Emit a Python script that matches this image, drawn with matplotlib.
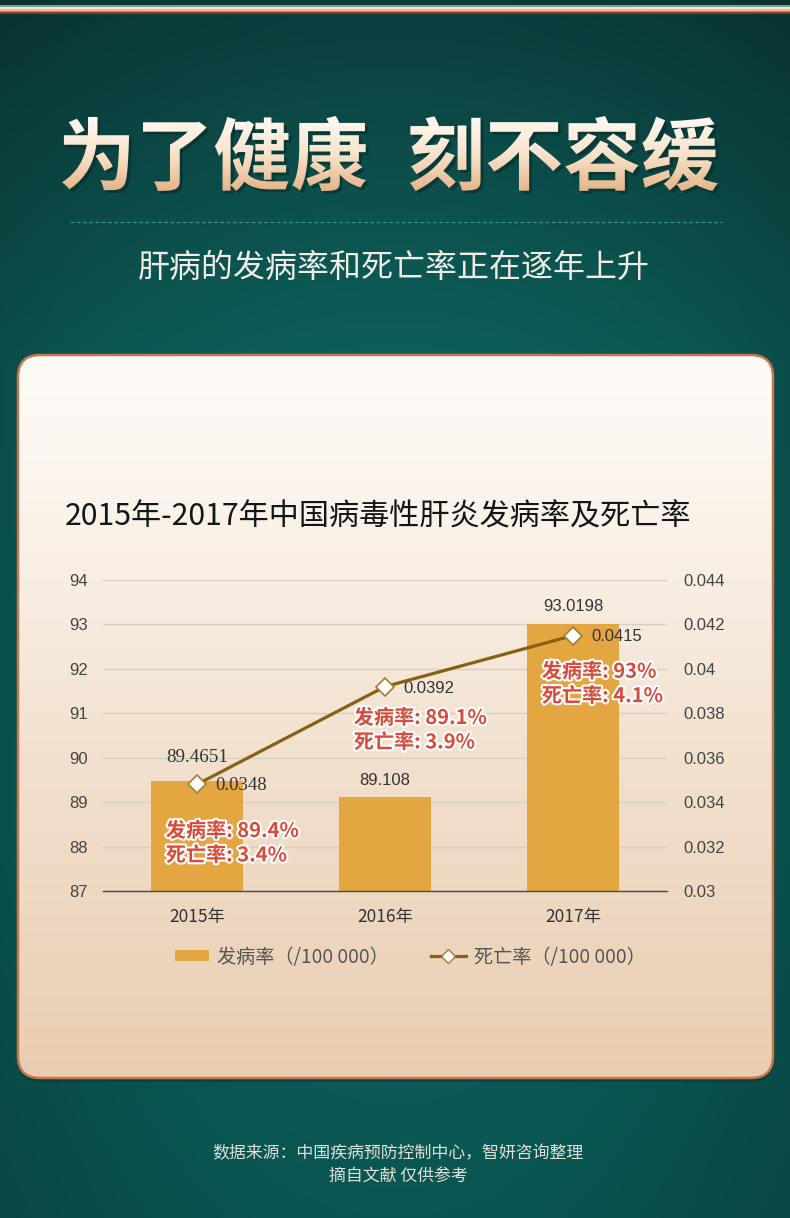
import numpy as np
import matplotlib
matplotlib.use("Agg")
import matplotlib.pyplot as plt
import matplotlib.patheffects as pe
from matplotlib.font_manager import FontProperties
from matplotlib.textpath import TextPath
from matplotlib.patches import PathPatch, FancyBboxPatch, Patch
from matplotlib.lines import Line2D
from matplotlib.transforms import Affine2D

plt.rcParams['font.family'] = ['Noto Sans CJK SC', 'DejaVu Sans']

# data
years = ['2015年', '2016年', '2017年']
incidence = [89.4651, 89.108, 93.0198]          # 发病率 (/100 000)
mortality = [0.0348, 0.0392, 0.0415]            # 死亡率 (/100 000)
ann_inc = ['89.4%', '89.1%', '93%']
ann_mort = ['3.4%', '3.9%', '4.1%']
left_ticks = [87, 88, 89, 90, 91, 92, 93, 94]
right_ticks = [0.03, 0.032, 0.034, 0.036, 0.038, 0.04, 0.042, 0.044]

headline = '为了健康 刻不容缓'
subtitle = '肝病的发病率和死亡率正在逐年上升'
chart_title = '2015年-2017年中国病毒性肝炎发病率及死亡率'
source = '数据来源：中国疾病预防控制中心，智妍咨询整理'
note = '摘自文献 仅供参考'

W, H = 790, 1218
BAR_C = '#e3a640'
LINE_C = '#876012'
RED = '#d84b3a'


def vgrad(stops, n=400):
    pos = [s[0] for s in stops]
    cols = np.array([matplotlib.colors.to_rgb(s[1]) for s in stops])
    t = np.linspace(0, 1, n)
    out = np.stack([np.interp(t, pos, cols[:, i]) for i in range(3)], axis=1)
    return out[:, None, :]


fig = plt.figure(figsize=(W / 100, H / 100), dpi=100)
bg = fig.add_axes([0, 0, 1, 1])
bg.set_axis_off()

# teal background, a bit darker at the very top and at the sides
base = vgrad([(0, '#0b3d3d'), (0.1, '#0c4a48'), (0.3, '#0d605b'),
              (0.7, '#0b625d'), (1, '#0a5552')])
side = 1 - 0.18 * (np.linspace(-1, 1, 200) ** 2)
img = base * side[None, :, None]
bg.imshow(img, extent=[0, W, H, 0], aspect='auto', zorder=0)

# stripe at the top
for y0, y1, c in [(5, 7, '#7f9e90'), (7, 8.5, '#f4e6cc'), (8.5, 10.5, '#f2b596'),
                  (10.5, 12, '#e07a52'), (12, 13.5, '#8c3a22')]:
    bg.axhspan(y0, y1, color=c, zorder=1, lw=0)

# headline, two words, cream gradient fill
fp = FontProperties(family='Noto Sans CJK SC', weight='black')
ytop, ybot = 116, 191
for word, (x0, x1) in zip(headline.split(' '), [(62, 366), (410, 718)]):
    tp = TextPath((0, 0), word, size=100, prop=fp)
    bb = tp.get_extents()
    tr = (Affine2D().translate(-bb.x0, -bb.y0)
          .scale((x1 - x0) / bb.width, -(ybot - ytop) / bb.height).translate(x0, ybot))
    hp = tr.transform_path(tp)
    shadow = PathPatch(hp, transform=Affine2D().translate(3, 3) + bg.transData,
                       facecolor='#062a28', edgecolor='none', alpha=0.55, zorder=2)
    bg.add_patch(shadow)
    hpatch = PathPatch(hp, transform=bg.transData, facecolor='none', edgecolor='none', zorder=3)
    bg.add_patch(hpatch)
    him = bg.imshow(vgrad([(0, '#fffaf2'), (0.5, '#f8e4cc'), (1, '#e6b488')]),
                    extent=[x0, x1, ybot, ytop], aspect='auto', zorder=3)
    him.set_clip_path(hpatch)

bg.plot([70, 722], [222, 222], color='#3f8f88', lw=0.9, ls=(0, (3, 2)), zorder=2)
bg.text(W / 2 - 1, 268, subtitle, ha='center', va='center', fontsize=23,
        color='#f2ede4', zorder=3)

# cream panel
shadow_p = FancyBboxPatch((18, 359), 755, 723, boxstyle='round,pad=0,rounding_size=22',
                          facecolor='#05302e', edgecolor='none', alpha=0.45, zorder=3)
bg.add_patch(shadow_p)
panel = FancyBboxPatch((18, 355), 755, 723, boxstyle='round,pad=0,rounding_size=22',
                       facecolor='none', edgecolor='#c8744c', lw=1.8, zorder=5)
bg.add_patch(panel)
pim = bg.imshow(vgrad([(0, '#fefbf7'), (0.2, '#fbf4ec'), (0.55, '#f2e1cf'),
                       (1, '#e9cdb2')]),
                extent=[18, 773, 1078, 355], aspect='auto', zorder=4)
pim.set_clip_path(panel)

bg.text(W / 2 + 3, 1153, source, ha='center', va='center', fontsize=12.2, color='#e2e0d6', zorder=3)
bg.text(W / 2 + 3, 1177, note, ha='center', va='center', fontsize=12.2, color='#e2e0d6', zorder=3)
bg.set_xlim(0, W)
bg.set_ylim(H, 0)

fig.text(65 / W, 1 - 517 / H, chart_title, ha='left', va='center', fontsize=21.7,
         color='#151515', weight='medium')

# chart
ax = fig.add_axes([103 / W, 1 - 891 / H, (667 - 103) / W, (891 - 580) / H])
ax.patch.set_visible(False)
x = np.arange(len(years))
ax.bar(x, incidence, width=0.49, color=BAR_C, zorder=2)
ax.set_xlim(-0.5, 2.5)
ax.set_ylim(87, 94)
ax.set_yticks(left_ticks)
ax.set_xticks(x)
ax.set_xticklabels(years)
ax.yaxis.grid(True, color='#d8cfc4', lw=1)
ax.set_axisbelow(True)
for s in ['top', 'right', 'left']:
    ax.spines[s].set_visible(False)
ax.spines['bottom'].set_color('#4a4a4a')
ax.spines['bottom'].set_linewidth(1)
ax.tick_params(axis='y', length=0, pad=11, labelsize=12, labelcolor='#444')
ax.tick_params(axis='x', length=0, pad=12, labelsize=12.5, labelcolor='#333')
for lab in ax.get_yticklabels():
    lab.set_fontfamily(['Liberation Sans'])
for lab in ax.get_xticklabels():
    lab.set_fontfamily(['Noto Sans CJK SC', 'DejaVu Sans'])

bar_off = [11, 7, 7]
for i, v in enumerate(incidence):
    ax.annotate(f'{v:g}', (x[i], v), xytext=(0, bar_off[i]), textcoords='offset points',
                ha='center', va='bottom', fontsize=13.7 if i == 0 else 12, color='#333',
                family=['Liberation Serif'] if i == 0 else ['Liberation Sans'])

ax2 = ax.twinx()
ax2.patch.set_visible(False)
ax2.plot(x, mortality, color=LINE_C, lw=2.3, marker='D', markersize=9,
         markerfacecolor='white', markeredgecolor='#a47c2c', markeredgewidth=1.2, zorder=4)
ax2.set_ylim(0.03, 0.044)
ax2.set_yticks(right_ticks)
ax2.set_yticklabels([f'{t:g}' for t in right_ticks])
for s in ax2.spines.values():
    s.set_visible(False)
ax2.tick_params(axis='y', length=0, pad=11.5, labelsize=12, labelcolor='#444')
for lab in ax2.get_yticklabels():
    lab.set_fontfamily(['Liberation Sans'])

for i, v in enumerate(mortality):
    ax2.annotate(f'{v:g}', (x[i], v), xytext=(13.5, -1), textcoords='offset points',
                 ha='left', va='center', fontsize=13.5 if i == 0 else 12, color='#333',
                 family=['Liberation Serif'] if i == 0 else ['Liberation Sans'])

ann_dy = [-42, -31, -34.5]
for i, v in enumerate(mortality):
    ax2.annotate(f'发病率: {ann_inc[i]}\n死亡率: {ann_mort[i]}', (x[i], v),
                 xytext=(-22.5, ann_dy[i]), textcoords='offset points',
                 ha='left', va='center', fontsize=14.5, weight='bold', color=RED,
                 linespacing=1.2, zorder=6,
                 path_effects=[pe.withStroke(linewidth=3, foreground='white')])

handles = [Patch(facecolor=BAR_C, edgecolor='none'),
           Line2D([], [], color=LINE_C, lw=2.3, marker='D', markersize=7,
                  markerfacecolor='white', markeredgecolor='#a47c2c')]
leg = fig.legend(handles, ['发病率（/100 000）', '死亡率（/100 000）'],
                 loc='center', bbox_to_anchor=(410 / W, 1 - 957 / H), ncol=2,
                 frameon=False, fontsize=13.8, handlelength=1.8, handleheight=0.55,
                 handletextpad=0.42, columnspacing=2.2)
for t in leg.get_texts():
    t.set_color('#555')

fig.savefig('out.png', dpi=100)
